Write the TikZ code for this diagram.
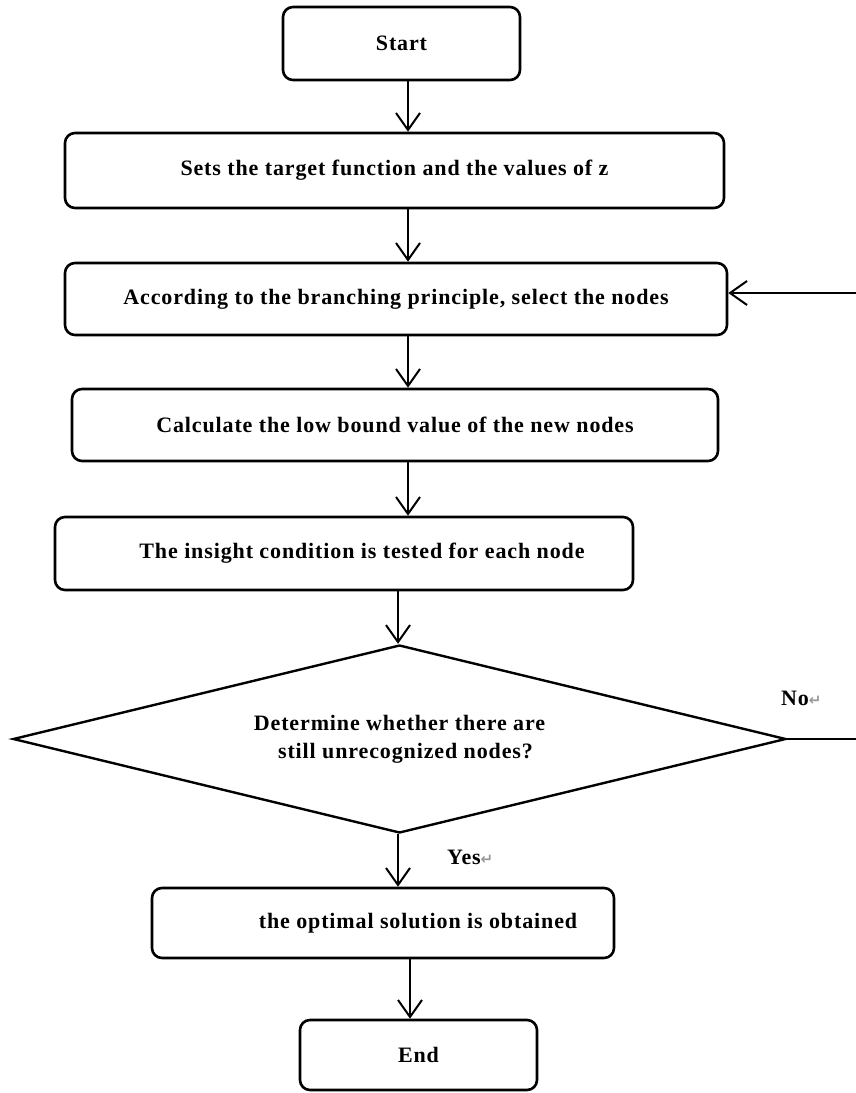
\documentclass[tikz,border=0pt]{standalone}
\usepackage{fontspec}
\setmainfont{Liberation Serif}[LetterSpace=4]
\newfontfamily\markfont{DejaVu Sans}
\usetikzlibrary{shapes.geometric,arrows.meta}
\begin{document}
\begin{tikzpicture}[x=1pt,y=-1pt,
  every node/.style={font=\fontsize{22}{28}\selectfont\bfseries},
  box/.style={draw,line width=2.6pt,rounded corners=10pt,inner sep=0pt,align=center},
  decision/.style={draw,line width=2.4pt,diamond,inner sep=0pt,shape aspect=4.1,
    align=center,minimum width=773pt,minimum height=188pt},
  arr/.style={line width=2pt,-{Straight Barb[length=17pt,width=24pt]}},
  link/.style={line width=2pt},
  lbl/.style={inner sep=0pt,anchor=west}
]
\newcommand{\parmark}{{\markfont\fontsize{15}{15}\selectfont\color{gray!80}↵}}
\useasboundingbox (0,0) rectangle (856,1093);

% process steps
\node[box,minimum width=237pt,minimum height=73pt] (s)  at (401.5,43.5) {Start};
\node[box,minimum width=659pt,minimum height=75pt] (b2) at (394.5,170.5) {Sets the target function and the values of z};
\node[box,minimum width=662pt,minimum height=72pt] (b3) at (396,299) {According to the branching principle, select the nodes};
\node[box,minimum width=646pt,minimum height=72pt] (b4) at (395,425) {Calculate the low bound value of the new nodes};
\node[box,minimum width=578pt,minimum height=73pt] (b5) at (344,553.5) {\hspace*{36pt}The insight condition is tested for each node};
\node[decision] (d) at (399.5,739) {Determine whether there are\\\hspace*{12pt}still unrecognized nodes?};
\node[box,minimum width=462pt,minimum height=70pt] (b6) at (383,923) {\hspace*{70pt}the optimal solution is obtained};
\node[box,minimum width=237pt,minimum height=70pt] (e)  at (418.5,1055) {End};

% branch labels
\node[lbl] (no)  at (781,698) {No\parmark};
\node[lbl] (yes) at (447,857) {Yes\parmark};

% main flow
\draw[arr] ([xshift=6.5pt]s.south)  -- ([xshift=13.5pt]b2.north);
\draw[arr] ([xshift=13.5pt]b2.south) -- ([xshift=12pt]b3.north);
\draw[arr] ([xshift=12pt]b3.south)  -- ([xshift=13pt]b4.north);
\draw[arr] ([xshift=13pt]b4.south)  -- ([xshift=64pt]b5.north);
\draw[arr] ([xshift=54pt]b5.south)  -- ([xshift=-1.5pt]d.north);
\draw[arr] ([xshift=-1.5pt]d.south) -- ([xshift=15pt]b6.north);
\draw[arr] ([xshift=27pt]b6.south)  -- ([xshift=-8.5pt]e.north);

% "No" branch back to node selection
\coordinate (r1) at (856,739);
\coordinate (r2) at (856,293);
\draw[link] (d.east) -- (r1);
\draw[arr] (r2) -- ([yshift=6pt]b3.east);
\end{tikzpicture}
\end{document}
